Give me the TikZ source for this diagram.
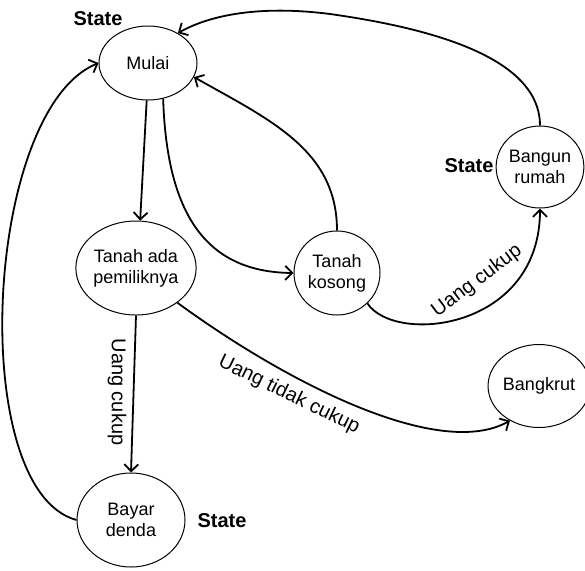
\documentclass[tikz,border=0pt]{standalone}
\usepackage{fontspec}
\setmainfont{Liberation Sans}
\usetikzlibrary{shapes.geometric,arrows.meta}

\begin{document}
\begin{tikzpicture}[x=0.5pt,y=-0.5pt,
    state/.style={draw,ellipse,line width=0.5pt,inner sep=0pt,align=center,font=\fontsize{9}{10.5}\selectfont},
    trans/.style={line width=0.9pt,-{Straight Barb[length=3.5pt,width=7pt]}},
    tag/.style={font=\fontsize{10}{12}\selectfont\bfseries},
    cond/.style={font=\fontsize{10}{12}\selectfont}]
                \useasboundingbox (0,0) rectangle (585,570);
                \node[state,minimum width=49pt,minimum height=37pt] (mulai) at (148,63) {Mulai};
                \node[state,minimum width=54pt,minimum height=47pt] (tanahada) at (136,268) {Tanah ada\\pemiliknya};
                \node[state,minimum width=43pt,minimum height=42pt] (kosong) at (337,273) {Tanah\\kosong};
                \node[state,minimum width=42pt,minimum height=41pt] (bangun) at (540,167) {Bangun\\rumah};
                \node[state,minimum width=41pt,minimum height=41.5pt] (bangkrut) at (539,386) {Bangkrut};
                \node[state,minimum width=54pt,minimum height=47pt] (bayar) at (131,520) {Bayar\\denda};
                \node[tag] (statemulai) at (98,19) {State};
                \node[tag] (statebangun) at (469,166) {State};
                \node[tag] (statebayar) at (222,521) {State};
                \draw[trans] (mulai.-92) -- (tanahada.85);
                \draw[trans] (mulai.-67) .. controls (167,220) and (210,272) .. (kosong.west);
                \draw[trans] (kosong.north) .. controls (337,150) and (270,120) .. (mulai.-17);
                \draw[trans] (bangun.north) .. controls (540,75) and (480,35) .. (330,14)
                    .. controls (260,5) and (210,15) .. (mulai.45);
                \draw[trans] (kosong.-45) .. controls (395,345) and (540,330) .. (bangun.south);
                \draw[trans] (tanahada.-40) .. controls (290,385) and (440,460) .. (bangkrut.-130);
                \draw[trans] (tanahada.south) -- (bayar.north);
                \draw[trans] (bayar.west) .. controls (-34,490) and (-16,110) .. (mulai.west);
                \node[cond,rotate=37] (ukosong) at (477,281) {Uang cukup};
                \node[cond,rotate=-26] (utidak) at (289,395) {Uang tidak cukup};
                \node[cond,rotate=-90] (uada) at (117,392) {Uang cukup};
            \end{tikzpicture}
\end{document}
